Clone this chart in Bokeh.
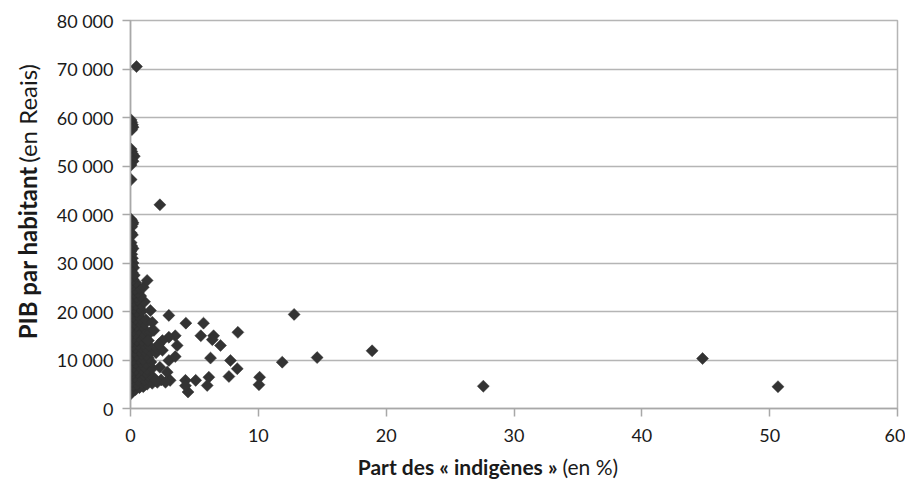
import math
from bokeh.plotting import figure
from bokeh.models import Range1d, FixedTicker, ColumnDataSource
from bokeh.layouts import row, column
from bokeh.core.properties import value
from bokeh.embed import file_html
from bokeh.resources import INLINE

# ---- data ----
# dense cluster near 0 %
cluster_x = [0.05, 0.15, 0.4, 0.1, 0.7, 1.0,
             0.2, 0.5, 0.9, 1.3, 1.7, 2.1, 0.1, 0.6, 1.1, 1.5, 2.4,
             0.05, 0.3, 0.7, 1.0, 1.4, 1.8, 0.2, 0.55, 1.2,
             0.1, 0.45, 0.85, 1.3, 1.7, 0.25, 0.65, 1.05,
             0.05, 0.4, 0.8, 1.2, 1.6, 0.2, 0.6, 1.0, 1.4,
             0.1, 0.45, 0.85, 1.25, 0.3, 0.7, 1.1, 1.6,
             0.05, 0.4, 0.8, 1.2, 0.2, 0.6, 1.0, 1.45,
             0.1, 0.5, 0.9, 1.3, 0.25, 0.65, 1.1,
             0.05, 0.4, 1.0, 0.2, 0.6, 1.2,
             0.1, 0.5, 0.9, 0.3, 0.7, 1.1,
             0.05, 0.4, 0.8, 1.2, 0.2, 0.6,
             0.1, 0.5, 0.9, 0.3, 0.7,
             0.05, 0.4, 0.8, 1.1, 0.2, 0.55,
             0.1, 0.45, 0.8, 0.25, 0.6,
             0.05, 0.35, 0.7, 1.0, 0.15,
             0.05, 0.4, 0.2, 0.1]
cluster_y = [3100, 3600, 3900, 4200, 4300, 4500,
             4800, 5000, 5100, 5000, 5200, 5400, 5600, 5800, 5900, 5700, 5900,
             6300, 6500, 6600, 6900, 6700, 6400, 7200, 7400, 7400,
             7800, 8000, 8100, 8000, 8300, 8600, 8800, 8700,
             9200, 9400, 9500, 9300, 9600, 10000, 10200, 10100, 10400,
             10800, 11000, 11200, 11000, 11700, 11900, 11800, 11600,
             12300, 12500, 12600, 12400, 13000, 13200, 13300, 13000,
             13800, 14000, 14100, 13900, 14600, 14800, 14700,
             15200, 15400, 15500, 16000, 16200, 16100,
             16800, 17000, 17100, 17600, 17800, 17500,
             18200, 18400, 18500, 18300, 19000, 19200,
             19700, 19900, 20100, 20600, 20800,
             21200, 21400, 21500, 22000, 22100, 22300,
             22800, 23000, 23200, 23700, 23900,
             24300, 24500, 24800, 25000, 25300,
             25800, 26000, 26600, 27100]

# upper column near 0 %
column_x = [0.05, 0.1, 0.15, 0.2, 0.1,
            0.05, 0.1, 0.15, 0.3, 0.1, 0.2, 0.05,
            0.05,
            0.05, 0.1, 0.2, 0.15, 0.1, 0.05, 0.15, 0.05, 0.1, 0.2,
            0.05, 0.1, 0.15, 0.05, 0.2, 0.1, 0.25, 0.05, 0.15, 0.3]
column_y = [59500, 59000, 58500, 58000, 57500,
            53500, 53000, 52500, 52000, 51500, 51000, 50200,
            47200,
            39000, 38700, 38300, 38000, 37500, 36200, 35800, 34200, 33500, 33000,
            32500, 31800, 31000, 30500, 30000, 29500, 29000, 28500, 28000, 27500]

# scattered municipalities
spread_x = [1.3, 1.56, 1.7, 1.56, 1.83, 1.4, 2.0, 2.1, 2.5, 3.0, 4.33, 5.71, 8.4,
            5.5, 6.5, 6.4, 7.04, 6.26, 7.82, 8.35, 7.7, 6.13, 6.0, 5.1, 4.3,
            4.5, 4.3, 3.65, 3.5, 3.0, 2.5, 3.0, 3.5, 2.87, 3.1, 2.74, 1.96,
            2.3, 2.2, 10.1, 10.05, 11.87, 12.8, 14.6, 18.9, 27.6, 44.75, 50.65,
            0.47, 2.3]
spread_y = [26400, 20200, 17800, 15700, 16100, 14000, 11500, 12300, 12000, 19200, 17600, 17600, 15700,
            15000, 15000, 14200, 13000, 10400, 9900, 8200, 6600, 6450, 4750, 5800, 5800,
            3400, 4700, 13000, 15000, 14700, 14000, 9900, 10700, 7500, 5800, 5400, 5800,
            8500, 13200, 6450, 4900, 9550, 19400, 10500, 11900, 4600, 10300, 4500,
            70500, 42000]

x_ticks = [0, 10, 20, 30, 40, 50, 60]
y_ticks = [0, 10000, 20000, 30000, 40000, 50000, 60000, 70000, 80000]
y_tick_labels = ["0", "10 000", "20 000", "30 000", "40 000",
                 "50 000", "60 000", "70 000", "80 000"]

y_title_bold = "PIB par habitant"
y_title_rest = "(en Reais)"
x_title_bold = "Part des « indigènes »"
x_title_rest = "(en %)"

FONT = "Lato"
TXT = "#1a1a1a"

# ---- page geometry (pixels) ----
YW = 45            # width of the strip carrying the vertical title
PW, PH = 860, 450  # main figure
XH = 32            # strip carrying the horizontal title
TOT_W = YW + PW

p = figure(width=PW, height=PH, x_range=Range1d(0, 60), y_range=Range1d(0, 80000),
           output_backend="svg", toolbar_location=None,
           min_border_left=130 - YW, min_border_right=8, min_border_top=20,
           min_border_bottom=PH - 408)

p.background_fill_color = "white"
p.border_fill_color = "white"
p.outline_line_color = "#b5b5b5"
p.outline_line_width = 1.5

p.xgrid.visible = False
p.ygrid.grid_line_color = "#b5b5b5"
p.ygrid.grid_line_width = 1.5

p.xaxis.ticker = FixedTicker(ticks=x_ticks)
p.yaxis.ticker = FixedTicker(ticks=y_ticks)
p.yaxis.major_label_overrides = {t: l for t, l in zip(y_ticks, y_tick_labels)}
for ax in (p.xaxis, p.yaxis):
    ax.axis_line_color = "#a8a8a8"
    ax.axis_line_width = 1.5
    ax.major_tick_line_color = "#a8a8a8"
    ax.major_tick_line_width = 1.5
    ax.major_tick_out = 8
    ax.major_tick_in = 0
    ax.minor_tick_line_color = None
    ax.major_label_text_font = FONT
    ax.major_label_text_font_size = "18px"
    ax.major_label_text_color = TXT
p.xaxis.major_label_standoff = 12
p.yaxis.major_label_standoff = 9

xs = cluster_x + column_x + spread_x
ys = cluster_y + column_y + spread_y
src = ColumnDataSource(dict(x=xs, y=ys))
p.scatter("x", "y", source=src, marker="square", angle=math.pi / 4, size=8.5,
          fill_color="#333333", line_color="#333333", line_width=0.5)


def strip(w, h):
    f = figure(width=w, height=h, x_range=Range1d(0, w), y_range=Range1d(0, h),
               output_backend="svg", toolbar_location=None,
               x_axis_type=None, y_axis_type=None, min_border=0)
    f.outline_line_color = None
    f.background_fill_color = "white"
    f.border_fill_color = "white"
    return f


# vertical title strip (left of the main figure, same height)
yf = strip(YW, PH)
yt_x = 27
yf.text(x=[yt_x], y=[PH - 169], text=[y_title_bold], text_font=value(FONT),
        text_font_size=value("24px"), text_font_style="bold", text_color=TXT,
        text_align="right", text_baseline="middle", angle=math.pi / 2)
yf.text(x=[yt_x], y=[PH - 165], text=[y_title_rest], text_font=value(FONT),
        text_font_size=value("24px"), text_font_style="normal", text_color=TXT,
        text_align="left", text_baseline="middle", angle=math.pi / 2)

# horizontal title strip (full width, below)
xf = strip(TOT_W, XH)
xt_y = XH - (466 - PH)
xf.text(x=[557], y=[xt_y], text=[x_title_bold], text_font=value(FONT),
        text_font_size=value("21px"), text_font_style="bold", text_color=TXT,
        text_align="right", text_baseline="middle")
xf.text(x=[562], y=[xt_y], text=[x_title_rest], text_font=value(FONT),
        text_font_size=value("21px"), text_font_style="normal", text_color=TXT,
        text_align="left", text_baseline="middle")

layout = column(row(yf, p), xf)
open("out.html", "w").write(file_html(layout, INLINE))
